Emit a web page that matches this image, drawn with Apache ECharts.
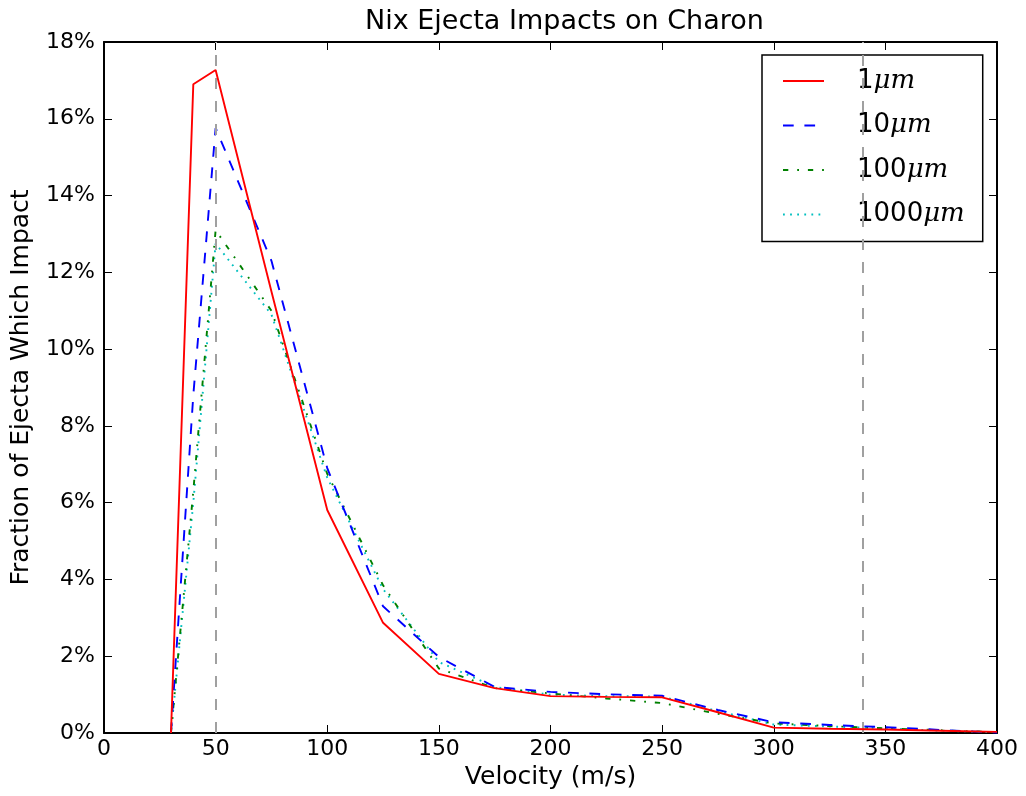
<!DOCTYPE html>
<html>
<head>
<meta charset="utf-8">
<script src="https://cdn.jsdelivr.net/npm/echarts@6/dist/echarts.min.js"></script>
<style>html,body{margin:0;padding:0;background:#fff}#c{width:1026px;height:796px}</style>
</head>
<body>
<div id="c"></div>
<script>
const velocities = [30, 40, 50, 75, 100, 125, 150, 175, 200, 225, 250, 275, 300, 325, 350, 375, 400];
const s1um    = [0, 16.9, 17.27, 11.5, 5.81, 2.87, 1.54, 1.17, 0.96, 0.94, 0.93, 0.54, 0.14, 0.11, 0.09, 0.06, 0.03];
const s10um   = [0, 8.8, 15.76, 12.3, 6.9, 3.3, 1.98, 1.2, 1.07, 1.01, 0.97, 0.6, 0.28, 0.21, 0.15, 0.08, 0.01];
const s100um  = [0, 6.3, 13.1, 11.0, 6.75, 3.85, 1.68, 1.17, 1.03, 0.9, 0.78, 0.5, 0.25, 0.18, 0.12, 0.07, 0.02];
const s1000um = [0, 6.0, 12.75, 10.9, 6.65, 3.75, 1.85, 1.2, 1.0, 0.96, 0.95, 0.57, 0.22, 0.17, 0.12, 0.06, 0.02];
const seriesNames = ['1', '10', '100', '1000'];
const refLines = [50, 340];

const chart = echarts.init(document.getElementById('c'), null, {renderer: 'canvas'});
const pair = arr => velocities.map((v, i) => [v, arr[i]]);
const F = 'DejaVu Sans';
const common = {type: 'line', showSymbol: false, symbol: 'none', smooth: false, xAxisIndex: 0, yAxisIndex: 0};
const lw = 1.9;
const tick = {show: true, inside: true, length: 8, lineStyle: {color: '#000', width: 1}};
const frame = {show: true, onZero: false, lineStyle: {color: '#000', width: 2}};
chart.setOption({
  animation: false,
  title: {text: 'Nix Ejecta Impacts on Charon', left: 360, top: 3,
    textStyle: {fontFamily: F, fontSize: 27, fontWeight: 'normal', color: '#000'}},
  grid: {left: 104, right: 29, top: 42, bottom: 63, outerBoundsMode: 'none', containLabel: false},
  xAxis: [
    {type: 'value', min: 0, max: 400, interval: 50, position: 'bottom',
      name: 'Velocity (m/s)', nameLocation: 'middle', nameGap: 30,
      nameTextStyle: {fontFamily: F, fontSize: 25, color: '#000'},
      axisLine: frame, axisTick: tick,
      axisLabel: {fontFamily: F, fontSize: 22, color: '#000', margin: 5},
      splitLine: {show: false}},
    {type: 'value', min: 0, max: 400, interval: 50, position: 'top',
      axisLine: frame, axisTick: tick,
      axisLabel: {show: false}, splitLine: {show: false}}
  ],
  yAxis: [
    {type: 'value', min: 0, max: 18, interval: 2, position: 'left',
      name: 'Fraction of Ejecta Which Impact', nameLocation: 'middle', nameGap: 70,
      nameTextStyle: {fontFamily: F, fontSize: 25, color: '#000'},
      axisLine: frame, axisTick: tick,
      axisLabel: {fontFamily: F, fontSize: 22, color: '#000', margin: 9, formatter: v => v + '%'},
      splitLine: {show: false}},
    {type: 'value', min: 0, max: 18, interval: 2, position: 'right',
      axisLine: frame, axisTick: tick,
      axisLabel: {show: false}, splitLine: {show: false}}
  ],
  legend: {
    orient: 'vertical', left: 762, top: 55,
    data: seriesNames.map(n => n + 'μm'),
    backgroundColor: '#fff', borderColor: '#000', borderWidth: 1.5,
    padding: [11, 18, 12, 20], itemGap: 14.5, itemWidth: 41, itemHeight: 14,
    itemStyle: {color: 'rgba(0,0,0,0)', borderWidth: 0, borderColor: 'rgba(0,0,0,0)'},
    textStyle: {fontFamily: F, fontSize: 26, color: '#000', padding: [0, 0, 0, 28], lineHeight: 30,
      rich: {
        n: {fontFamily: F, fontSize: 26, color: '#000', lineHeight: 30},
        u: {fontFamily: 'DejaVu Serif', fontStyle: 'italic', fontSize: 26, color: '#000', lineHeight: 30}
      }},
    formatter: name => '{n|' + name.replace('μm', '') + '}{u|μm}'
  },
  series: [
    Object.assign({}, common, {name: '1μm', data: pair(s1um), z: 5,
      lineStyle: {color: '#ff0000', width: lw, type: 'solid'}, itemStyle: {color: '#ff0000'},
      markLine: {silent: true, symbol: 'none', label: {show: false},
        lineStyle: {color: '#a0a0a0', width: 2, type: [11, 12]},
        data: refLines.map(v => ({xAxis: v}))}}),
    Object.assign({}, common, {name: '10μm', data: pair(s10um), z: 4,
      lineStyle: {color: '#0000ff', width: lw, type: [10.7, 10.7]}, itemStyle: {color: '#0000ff'}}),
    Object.assign({}, common, {name: '100μm', data: pair(s100um), z: 3,
      lineStyle: {color: '#008000', width: lw, type: [5.3, 8.9, 1.8, 8.9]}, itemStyle: {color: '#008000'}}),
    Object.assign({}, common, {name: '1000μm', data: pair(s1000um), z: 2,
      lineStyle: {color: '#00bfbf', width: lw, type: [1.8, 5.3]}, itemStyle: {color: '#00bfbf'}})
  ]
});
</script>
</body>
</html>
